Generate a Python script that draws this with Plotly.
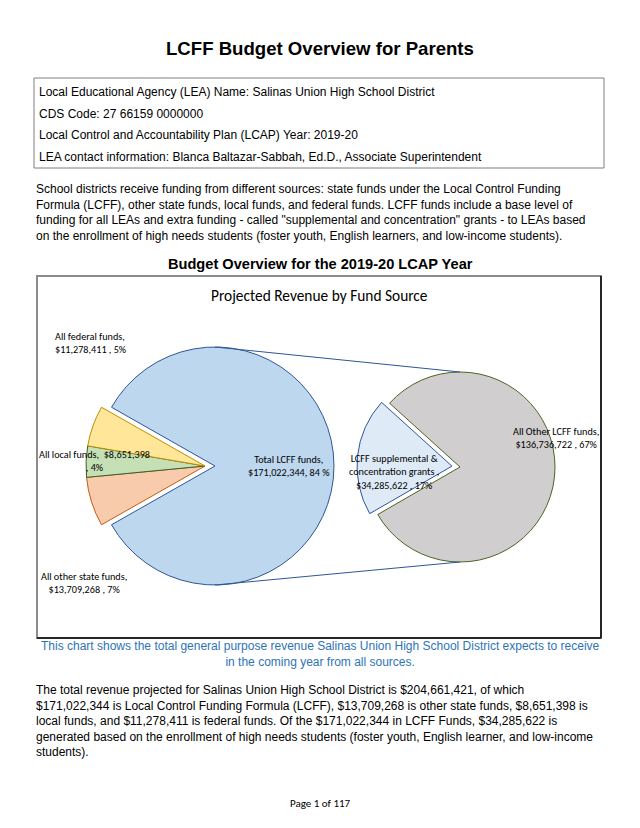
import plotly.graph_objects as go

W, H = 640, 828

# Fund sources (left pie), in drawing order
sources = ["Total LCFF funds", "All other state funds", "All local funds", "All federal funds"]
amounts = [171022344, 13709268, 8651398, 11278411]
source_pct = [84, 7, 4, 5]  # as printed on the chart
source_fill = ["#BDD7EE", "#F8CBAD", "#C5E0B4", "#FFE699"]
source_line = ["#2F5597", "#C55A11", "#3B5E2B", "#BF9000"]

# Break-down of LCFF (right pie)
lcff_parts = ["LCFF supplemental & concentration grants", "All Other LCFF funds"]
lcff_amounts = [34285622, 136736722]
lcff_pct = [17, 67]
lcff_fill = ["#DEEBF7", "#D0CECE"]
lcff_line = ["#2F5597", "#4F6228"]

total = sum(amounts)

BODY = "Liberation Sans, Arial, sans-serif"
CHART = "Carlito, Calibri, Lato, sans-serif"


def px(x):
    return x / W


def py(y):
    return 1 - y / H


def money(v):
    return f"${v:,}"


def dom(cx, cy, half):
    return dict(x=[px(cx - half), px(cx + half)], y=[py(cy + half), py(cy - half)])


# pie geometry (pixels)
L_CX, L_CY, L_R, L_PULL = 205, 466, 119, 0.084
R_CX, R_CY, R_R, R_PULL = 460, 467, 95, 0.085

fig = go.Figure()

lcff_share = amounts[0] / total
fig.add_trace(go.Pie(
    labels=sources, values=amounts, sort=False, direction="clockwise",
    rotation=90 - 180 * lcff_share,
    pull=[L_PULL, 0, 0, 0],
    marker=dict(colors=source_fill, line=dict(color=source_line, width=1)),
    textinfo="none", hoverinfo="label+value+percent", showlegend=False,
    domain=dom(L_CX, L_CY, L_R * (1 + L_PULL)),
))

fig.add_trace(go.Pie(
    labels=lcff_parts, values=lcff_amounts, sort=False, direction="clockwise",
    rotation=240,
    pull=[R_PULL, 0],
    marker=dict(colors=lcff_fill, line=dict(color=lcff_line, width=1)),
    textinfo="none", hoverinfo="label+value", showlegend=False,
    domain=dom(R_CX, R_CY, R_R * (1 + R_PULL)),
))

shapes = []
# info box
shapes.append(dict(type="rect", xref="paper", yref="paper", x0=px(34), x1=px(604), y0=py(168), y1=py(78),
                   line=dict(color="#7F7F7F", width=1)))
# chart frame
shapes.append(dict(type="rect", xref="paper", yref="paper", x0=px(37), x1=px(601), y0=py(638), y1=py(276),
                   line=dict(color="#8C8C8C", width=2)))
shapes.append(dict(type="line", xref="paper", yref="paper", x0=px(601), x1=px(601), y0=py(638), y1=py(276),
                   line=dict(color="#262626", width=2)))
shapes.append(dict(type="line", xref="paper", yref="paper", x0=px(37), x1=px(601), y0=py(638), y1=py(638),
                   line=dict(color="#262626", width=2)))
# connector lines between the pies
bx = L_CX + L_R * L_PULL
shapes.append(dict(type="line", xref="paper", yref="paper", x0=px(bx), y0=py(L_CY - L_R),
                   x1=px(R_CX), y1=py(R_CY - R_R), line=dict(color="#2F5597", width=1)))
shapes.append(dict(type="line", xref="paper", yref="paper", x0=px(bx), y0=py(L_CY + L_R),
                   x1=px(R_CX), y1=py(R_CY + R_R), line=dict(color="#2F5597", width=1)))

ann = []


def text(x, y, s, size, font=BODY, color="black", xanchor="left", align="left", bold=False):
    if bold:
        s = f"<b>{s}</b>"
    ann.append(dict(x=px(x), y=py(y), xref="paper", yref="paper", text=s, showarrow=False,
                    xanchor=xanchor, yanchor="middle", align=align,
                    font=dict(family=font, size=size, color=color)))


text(320, 48, "LCFF Budget Overview for Parents", 18.6, xanchor="center", bold=True)
box_lines = [
    "Local Educational Agency (LEA) Name: Salinas Union High School District",
    "CDS Code: 27 66159 0000000",
    "Local Control and Accountability Plan (LCAP) Year: 2019-20",
    "LEA contact information: Blanca Baltazar-Sabbah, Ed.D., Associate Superintendent",
]
for i, s in enumerate(box_lines):
    text(37, 92 + i * 21.7, s, 12)

intro = ("School districts receive funding from different sources: state funds under the Local Control Funding<br>"
         "Formula (LCFF), other state funds, local funds, and federal funds. LCFF funds include a base level of<br>"
         "funding for all LEAs and extra funding - called \"supplemental and concentration\" grants - to LEAs based<br>"
         "on the enrollment of high needs students (foster youth, English learners, and low-income students).")
text(34, 212, intro, 12)

text(320, 264, "Budget Overview for the 2019-20 LCAP Year", 14.6, xanchor="center", bold=True)
text(319, 295, "Projected Revenue by Fund Source", 15.4, font=CHART, xanchor="center")

# data labels
LS = 10.2
text(53, 343, f"{sources[3]},<br>{money(amounts[3])} , {source_pct[3]}%", LS, font=CHART)
text(94, 461, f"{sources[2]},  {money(amounts[2])}<br>, {source_pct[2]}%", LS, font=CHART,
     xanchor="center", align="center")
text(84, 583, f"{sources[1]},<br>{money(amounts[1])} , {source_pct[1]}%", LS, font=CHART,
     xanchor="center", align="center")
text(288, 466, f"{sources[0]},<br>{money(amounts[0])}, {source_pct[0]} %", LS, font=CHART,
     xanchor="center", align="center")
text(394, 472, f"LCFF supplemental &<br>concentration grants ,<br>{money(lcff_amounts[0])} , {lcff_pct[0]}%",
     LS, font=CHART, xanchor="center", align="center")
text(556, 438, f"{lcff_parts[1]},<br>{money(lcff_amounts[1])} , {lcff_pct[1]}%", LS, font=CHART,
     xanchor="center", align="center")

caption = ("This chart shows the total general purpose revenue Salinas Union High School District expects to receive<br>"
           "in the coming year from all sources.")
text(320, 654, caption, 12, color="#2E74B5", xanchor="center", align="center")

summary = (f"The total revenue projected for Salinas Union High School District is {money(total)}, of which<br>"
           f"{money(amounts[0])} is Local Control Funding Formula (LCFF), {money(amounts[1])} is other state funds, "
           f"{money(amounts[2])} is<br>"
           f"local funds, and {money(amounts[3])} is federal funds. Of the {money(amounts[0])} in LCFF Funds, "
           f"{money(lcff_amounts[0])} is<br>"
           "generated based on the enrollment of high needs students (foster youth, English learner, and low-income<br>"
           "students).")
text(34, 721, summary, 12)

text(320, 803, "Page 1 of 117", 11, font=CHART, xanchor="center")

fig.update_layout(
    width=W, height=H, autosize=False,
    margin=dict(l=0, r=0, t=0, b=0),
    paper_bgcolor="white", plot_bgcolor="white",
    shapes=shapes, annotations=ann, showlegend=False,
)

fig.write_html("out.html", config={"displayModeBar": False},
               post_script="document.body.style.margin='0px';")
